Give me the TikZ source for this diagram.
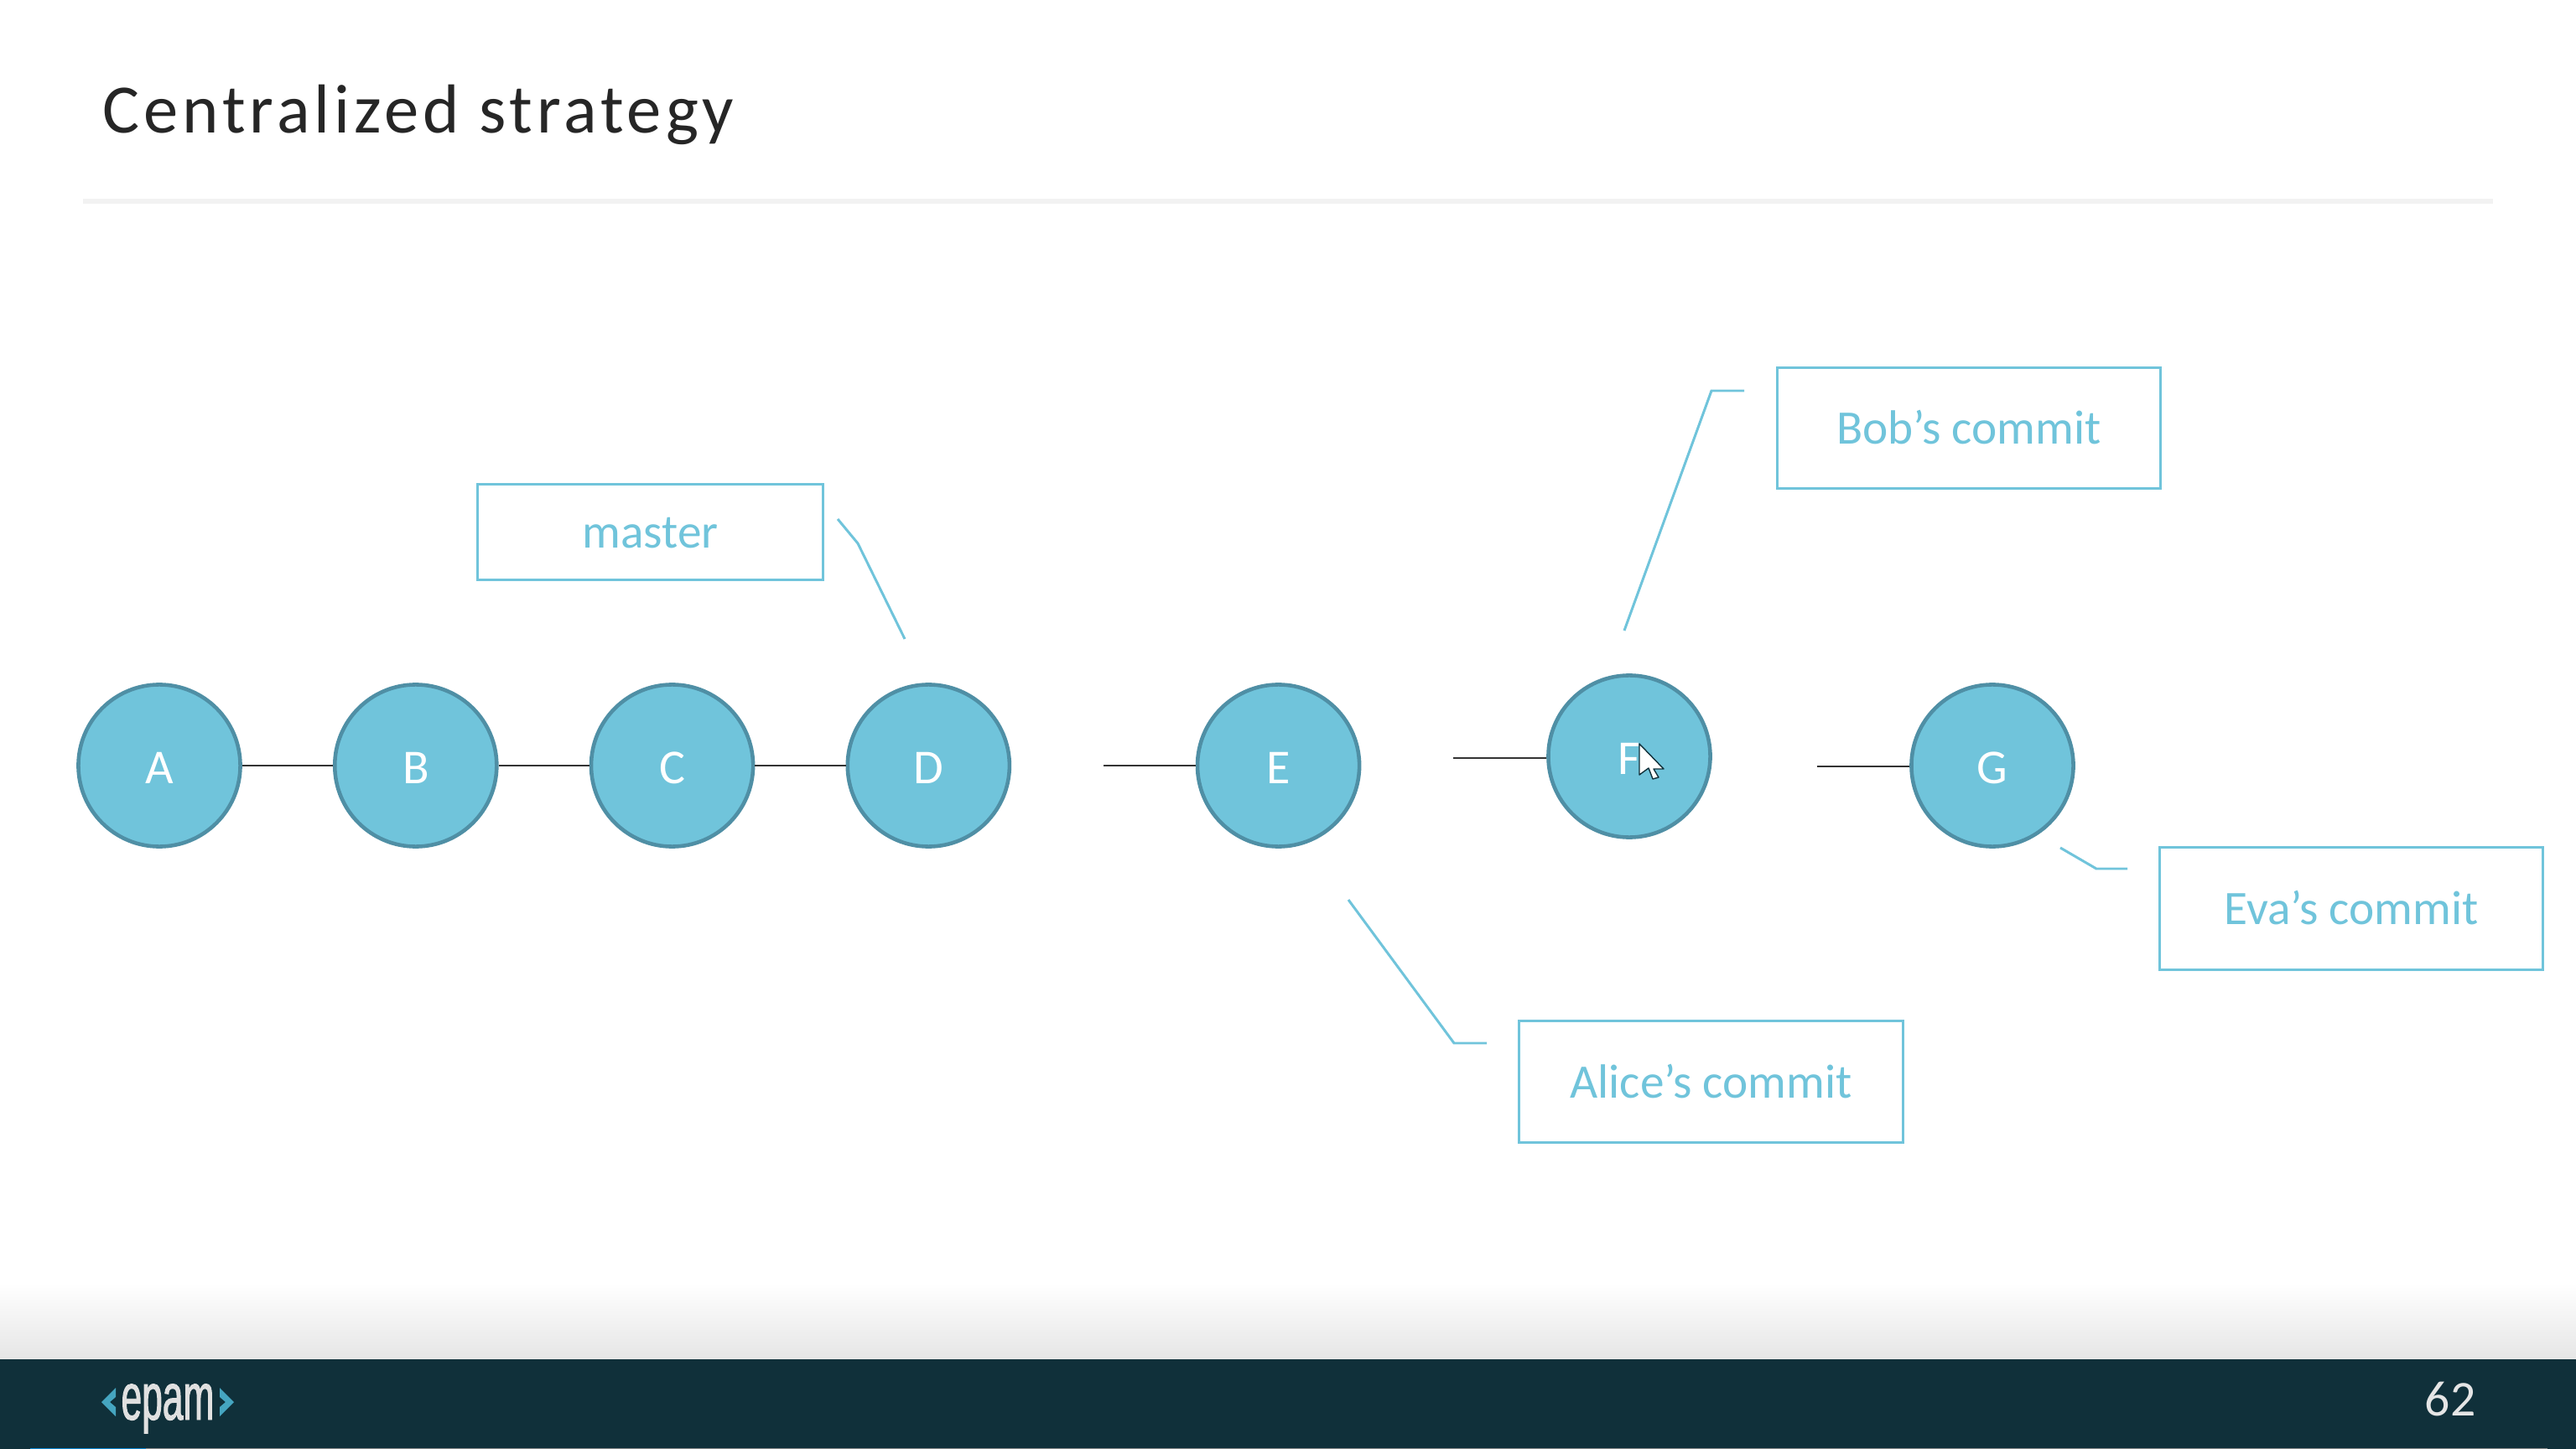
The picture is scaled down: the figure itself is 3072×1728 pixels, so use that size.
\documentclass[tikz,border=0pt]{standalone}
\usepackage{fontspec}
\setmainfont{Carlito}
\newfontfamily\titlefont[LetterSpace=6]{Carlito}
\newfontfamily\logofont[FakeStretch=0.56,FakeBold=1.2]{Liberation Sans}
\usetikzlibrary{shapes.geometric}

\definecolor{commitblue}{HTML}{70C4DB}
\definecolor{commitedge}{HTML}{4F8FA5}
\definecolor{barcolor}{HTML}{10303A}
\definecolor{logoblue}{HTML}{45A5C0}

\tikzset{
    commit/.style={circle,draw=commitedge,fill=commitblue,line width=1.3pt,
        minimum size=1.93cm,inner sep=0pt,text=white,text height=12pt,text depth=0pt,
        font=\fontsize{16.5}{20}\selectfont},
    callbox/.style={rectangle,draw=commitblue,line width=0.85pt,fill=white,
        inner sep=0pt,text=commitblue,text height=11pt,text depth=0pt,
        font=\fontsize{16.3}{20}\selectfont},
    callline/.style={draw=commitblue,line width=0.85pt},
    link/.style={draw=black!80,line width=0.55pt}
}

\begin{document}
\begin{tikzpicture}[x=0.01cm,y=-0.01cm,node distance=3.056cm]

        \useasboundingbox (0,0) rectangle (3072,1728);
        \fill[white] (0,0) rectangle (3072,1728);

        % title
        \node[anchor=base west,inner sep=0pt,text=black!85] (title) at (122,158.5)
            {\titlefont\fontsize{23.5}{28}\selectfont Centralized strategy};
        \fill[black!5] (99,237) rectangle (2973,243);

        % footer
        \shade[top color=white,bottom color=black!10] (0,1530) rectangle (3072,1621);
        \fill[barcolor] (0,1621) rectangle (3072,1728);
        \fill[black!45] (174,1726.5) rectangle (3038,1728);
        \fill[cyan!70!blue] (36,1726.5) rectangle (174,1728);
        \node[anchor=base,inner sep=0pt,text=black!12] (logo) at (200,1693)
            {\logofont\fontsize{22.5}{28}\selectfont epam};
        \fill[logoblue] (138,1655) -- (121,1672) -- (138,1689) -- (138,1678)
            -- (131,1672) -- (138,1666) -- cycle;
        \fill[logoblue] (262,1655) -- (279,1672) -- (262,1689) -- (262,1678)
            -- (269,1672) -- (262,1666) -- cycle;
        \node[inner sep=0pt,text=black!10,font=\fontsize{17}{20}\selectfont] (page) at (2922,1669) {62};

        % commits
        \node[commit]            (A) at (190,913)                    {A};
        \node[commit]            (B) [right of=A]                    {B};
        \node[commit]            (C) [right of=B]                    {C};
        \node[commit]            (D) [right of=C]                    {D};
        \node[commit]            (E) [right of=D,node distance=4.17cm] {E};
        \node[commit]            (F) at (1943,902)                   {F};
        \node[commit]            (G) at (2376,913)                   {G};

        \coordinate (eStub) at (1316,913);
        \coordinate (fStub) at (1733,904);
        \coordinate (gStub) at (2167,914);

        \path[link] (A) edge (B)
                    (B) edge (C)
                    (C) edge (D)
                    (eStub) edge (E)
                    (fStub) edge (fStub -| F.west)
                    (gStub) edge (gStub -| G.west);

        % labels
        \node[callbox,minimum width=4.11cm,minimum height=1.13cm] (master) at (775.5,634.5) {master};
        \node[callbox,minimum width=4.56cm,minimum height=1.43cm] (bob)    at (2348,510.5)  {Bob’s commit};
        \node[callbox,minimum width=4.56cm,minimum height=1.45cm] (eva)    at (2804,1083.5) {Eva’s commit};
        \node[callbox,minimum width=4.57cm,minimum height=1.44cm] (alice)  at (2040.5,1290) {Alice’s commit};

        \coordinate (m1) at (999,619);
        \coordinate (m2) at (1023,648);
        \coordinate (m3) at (1079,762);
        \coordinate (b1) at (2080,466);
        \coordinate (b2) at (2041,466);
        \coordinate (b3) at (1937,752);
        \coordinate (e1) at (2537,1036);
        \coordinate (e2) at (2500,1036);
        \coordinate (e3) at (2457,1011);
        \coordinate (a1) at (1773,1244);
        \coordinate (a2) at (1734,1244);
        \coordinate (a3) at (1608,1073);

        \draw[callline] (m1) -- (m2) -- (m3);
        \draw[callline] (b1) -- (b2) -- (b3);
        \draw[callline] (e1) -- (e2) -- (e3);
        \draw[callline] (a1) -- (a2) -- (a3);

        % pointer
        \filldraw[fill=white,draw=barcolor,line width=0.4pt,line join=round]
            (1955,887) -- (1955,924) -- (1966,916) -- (1971,929) -- (1978,927)
            -- (1972,917) -- (1984,917) -- cycle;

\end{tikzpicture}
\end{document}
